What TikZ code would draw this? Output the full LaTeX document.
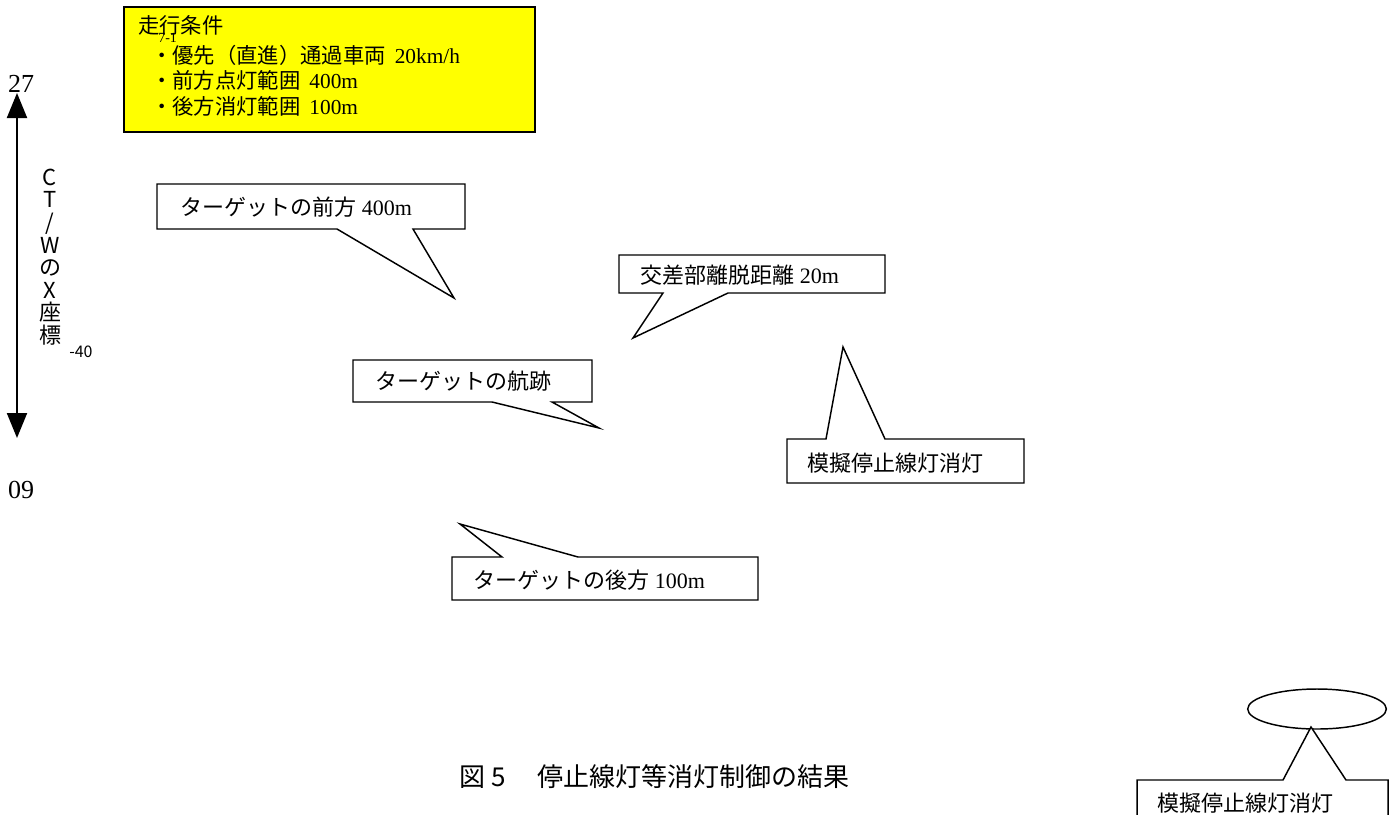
\documentclass[tikz,border=0pt]{standalone}
\usepackage{fontspec}
\setmainfont{Liberation Serif}
\newfontfamily\jp{Noto Sans CJK JP}
\usetikzlibrary{arrows.meta,shapes.geometric}
\definecolor{condyellow}{RGB}{255,255,0}
\tikzset{
  balloon/.style={draw=black,line width=1.1pt,fill=white,line join=miter},
  ctext/.style={anchor=base west,inner sep=0pt,font=\fontsize{16.5}{20}\selectfont},
  ytext/.style={anchor=base west,inner sep=0pt,font=\fontsize{16}{20}\selectfont},
  num/.style={anchor=center,inner sep=0pt,font=\fontsize{19.5}{20}\selectfont},
}
\begin{document}
\begin{tikzpicture}[x=0.75pt,y=-0.75pt]
\useasboundingbox (0,0) rectangle (1398,814);
\clip (0,0) rectangle (1398,814);
% condition box
\draw[line width=1.1pt,fill=condyellow] (124,7) rectangle (535,132);
\node[ytext] (t0) at (138,33) {\jp 走行条件};
\node[anchor=base west,inner sep=0pt,font=\fontsize{10.5}{10}\selectfont] (t71) at (158,42) {7-1};
\node[ytext] (t1) at (151,63) {{\jp ・優先（直進）通過車両}\ \,20km/h};
\node[ytext] (t2) at (151,88) {{\jp ・前方点灯範囲}\ \,400m};
\node[ytext] (t3) at (151,114) {{\jp ・後方消灯範囲}\ \,100m};
% axis
\node[num] (n27) at (21,84) {27};
\node[num] (n09) at (21,490) {09};
\coordinate (atop) at (17,93);
\coordinate (abot) at (17,438);
\draw[line width=1.5pt,{Triangle[length=18.75pt,width=15pt]}-{Triangle[length=18.75pt,width=15pt]}] (atop) -- (abot);
\node[inner sep=0pt,align=center,font=\jp\fontsize{16.5}{16.9}\selectfont] (ylab) at (50,257) {C\\T\\/\\W\\の\\X\\座\\標};
\node[anchor=base west,inner sep=0pt,font=\jp\fontsize{12}{12}\selectfont] (m40) at (69,357) {-40};
% callout 1
\draw[balloon] (157,184) -- (465,184) -- (465,229) -- (413,229) -- (454,298) -- (337,229) -- (157,229) -- cycle;
\node[ctext] (c1) at (180,215) {{\jp ターゲットの前方} 400m};
% callout 2
\draw[balloon] (619,255) -- (885,255) -- (885,293) -- (728,293) -- (633,338) -- (663,293) -- (619,293) -- cycle;
\node[ctext] (c2) at (640,283) {{\jp 交差部離脱距離} 20m};
% callout 3
\draw[balloon] (353,360) -- (592,360) -- (592,402) -- (552,402) -- (599,428) -- (492,402) -- (353,402) -- cycle;
\node[ctext] (c3) at (375,389) {\jp ターゲットの航跡};
% callout 4
\draw[balloon] (787,439) -- (826,439) -- (843,347) -- (885,439) -- (1024,439) -- (1024,483) -- (787,483) -- cycle;
\node[ctext] (c4) at (807,471) {\jp 模擬停止線灯消灯};
% callout 5
\draw[balloon] (452,557) -- (502,557) -- (460,524) -- (578,557) -- (758,557) -- (758,600) -- (452,600) -- cycle;
\node[ctext] (c5) at (473,588) {{\jp ターゲットの後方} 100m};
% ellipse and callout 6
\node[draw,line width=1.1pt,ellipse,minimum width=104pt,minimum height=30pt,inner sep=0pt] (ell) at (1317,709) {};
\draw[balloon] (1137,830) -- (1137,780) -- (1283,780) -- (1311,727) -- (1346,780) -- (1388,780) -- (1388,830);
\node[ctext] (c6) at (1157,811) {\jp 模擬停止線灯消灯};
% caption
\node[anchor=base west,inner sep=0pt,font=\jp\fontsize{19.5}{22}\selectfont] (cap1) at (459,786) {図 5};
\node[anchor=base west,inner sep=0pt,font=\jp\fontsize{19.5}{22}\selectfont] (cap2) at (537,786) {停止線灯等消灯制御の結果};
\end{tikzpicture}
\end{document}
